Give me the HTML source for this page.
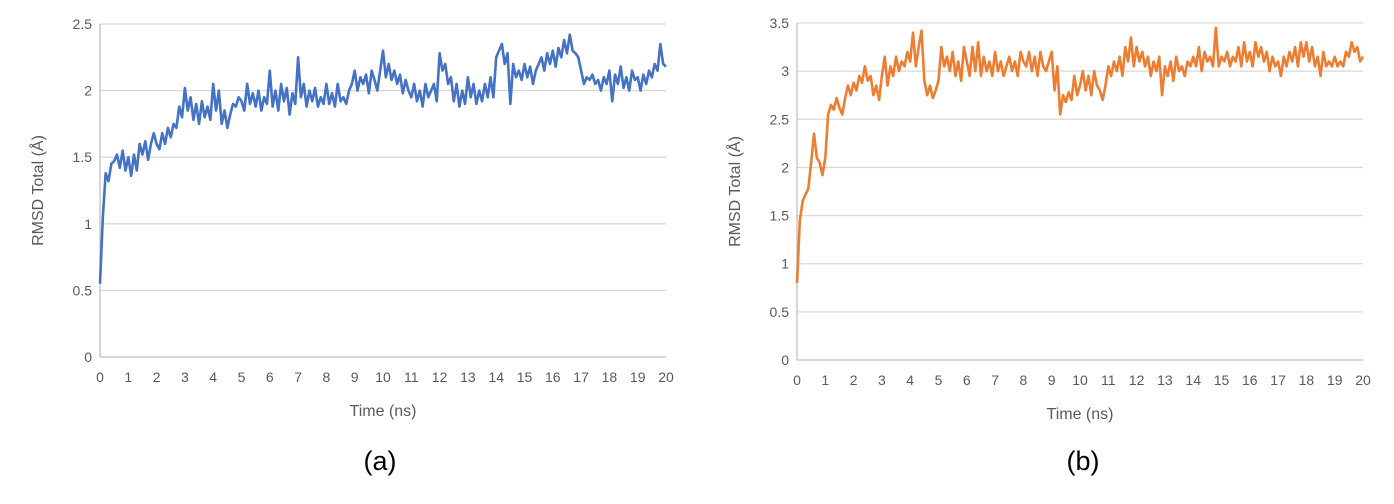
<!DOCTYPE html>
<html><head><meta charset="utf-8"><style>
html,body{margin:0;padding:0;background:#fff;}
svg{display:block;font-family:"Liberation Sans",Arial,sans-serif;}
</style></head><body>
<svg id="fig" width="1394" height="504" viewBox="0 0 1394 504">
<text x="380" y="470" font-size="27" text-anchor="middle" fill="#000">(a)</text>
<text x="1083" y="470" font-size="27" text-anchor="middle" fill="#000">(b)</text>
</svg>
<script>
const xTicks = [0,1,2,3,4,5,6,7,8,9,10,11,12,13,14,15,16,17,18,19,20];
const yTicksA = [0,0.5,1,1.5,2,2.5];
const yTicksB = [0,0.5,1,1.5,2,2.5,3,3.5];
const seriesA = [0.55,1.05,1.38,1.32,1.45,1.47,1.52,1.42,1.55,1.40,
1.50,1.36,1.52,1.40,1.60,1.52,1.62,1.48,1.60,1.68,
1.60,1.56,1.68,1.60,1.72,1.65,1.75,1.72,1.88,1.80,
2.02,1.85,1.95,1.78,1.90,1.75,1.92,1.80,1.88,1.78,
2.05,1.85,2.00,1.75,1.85,1.72,1.82,1.90,1.88,1.95,
1.92,1.85,2.05,1.90,1.98,1.88,2.00,1.85,1.95,1.90,
2.15,1.88,2.00,1.85,2.05,1.92,2.02,1.82,1.98,1.90,
2.25,1.95,2.05,1.88,2.00,1.92,2.02,1.88,1.95,1.90,
2.05,1.90,1.98,1.88,2.05,1.92,1.95,1.90,2.00,2.05,
2.15,2.00,2.10,2.05,2.12,1.98,2.15,2.08,2.00,2.15,
2.30,2.10,2.20,2.08,2.15,2.05,2.12,1.98,2.08,2.00,
1.95,2.05,1.92,2.00,1.88,2.05,1.95,2.00,2.05,1.92,
2.28,2.15,2.20,2.05,2.10,1.92,2.05,1.88,2.00,1.90,
2.10,1.95,2.05,1.90,2.00,1.92,2.05,1.95,2.10,1.95,
2.25,2.30,2.35,2.20,2.28,1.90,2.20,2.10,2.15,2.08,
2.20,2.10,2.18,2.05,2.15,2.20,2.25,2.15,2.28,2.20,
2.30,2.18,2.32,2.25,2.38,2.28,2.42,2.30,2.28,2.25,
2.15,2.05,2.10,2.08,2.12,2.05,2.08,2.00,2.10,2.05,
2.15,1.92,2.12,2.05,2.18,2.02,2.10,2.00,2.15,2.08,
2.10,2.00,2.12,2.05,2.15,2.10,2.20,2.15,2.35,2.20,
2.18];
const seriesB = [0.80,1.45,1.65,1.72,1.78,2.05,2.35,2.10,2.05,1.92,
2.10,2.55,2.65,2.60,2.72,2.62,2.55,2.72,2.85,2.75,
2.88,2.80,2.95,2.88,3.05,2.90,2.95,2.75,2.85,2.70,
2.95,3.15,2.85,3.05,2.95,3.15,3.00,3.10,3.05,3.20,
3.10,3.40,3.05,3.25,3.42,2.90,2.75,2.85,2.72,2.80,
2.90,3.25,3.05,3.15,3.00,3.20,2.95,3.10,2.90,3.25,
3.10,2.95,3.25,3.00,3.30,2.95,3.15,3.00,3.10,2.95,
3.20,3.00,3.10,2.95,3.05,3.15,3.00,3.10,2.95,3.20,
3.10,3.05,3.20,3.00,3.15,2.95,3.20,3.05,3.00,3.10,
3.20,2.80,3.05,2.55,2.75,2.68,2.78,2.70,2.95,2.75,
2.85,3.00,2.80,2.95,2.75,3.00,2.85,2.80,2.70,2.85,
3.05,2.95,3.10,3.00,3.15,2.95,3.25,3.10,3.35,3.05,
3.25,3.10,3.20,3.05,3.15,2.95,3.10,3.00,3.15,2.75,
3.05,2.95,3.10,2.90,3.15,3.00,3.05,2.95,3.10,3.05,
3.15,3.05,3.25,3.00,3.20,3.10,3.15,3.05,3.45,3.05,
3.15,3.10,3.20,3.05,3.15,3.10,3.25,3.05,3.30,3.10,
3.20,3.05,3.30,3.15,3.25,3.10,3.20,3.00,3.15,3.05,
3.10,2.95,3.15,3.05,3.20,3.10,3.25,3.05,3.30,3.15,
3.30,3.10,3.25,3.05,3.15,2.95,3.20,3.05,3.10,3.05,
3.15,3.05,3.10,3.05,3.20,3.15,3.30,3.20,3.25,3.10,
3.15];
const NS='http://www.w3.org/2000/svg';
const svg=document.getElementById('fig');
function mk(tag,attrs,parent){const e=document.createElementNS(NS,tag);for(const k in attrs)e.setAttribute(k,attrs[k]);(parent||svg).appendChild(e);return e;}
function chart(id,x0,x1,y0,y1,yTicks,yMax,data,color){
  const g=mk('g',{});
  
  
  const xs=v=>x0+(v/20)*(x1-x0);
  const ys=v=>y0-(v/yMax)*(y0-y1);
  yTicks.forEach(t=>{
    if(t>0){const l=mk('line',{x1:x0,x2:x1,y1:ys(t),y2:ys(t),stroke:'#d9d9d9','stroke-width':1.3},g);
    
    }
    const tx=mk('text',{x:x0-8,y:ys(t)+5,'font-size':14,'text-anchor':'end',fill:'#595959'},g);
    tx.textContent=String(t);
    
    
  });
  const ax=mk('line',{x1:x0,x2:x0,y1:y1,y2:y0,stroke:'#bfbfbf','stroke-width':1.3},g);
  
  
  const bx=mk('line',{x1:x0,x2:x1,y1:y0,y2:y0,stroke:'#bfbfbf','stroke-width':1.3},g);
  
  
  xTicks.forEach(t=>{
    const tx=mk('text',{x:xs(t),y:y0+25,'font-size':14,'text-anchor':'middle',fill:'#595959'},g);
    tx.textContent=String(t);
    
    
  });
  const xt=mk('text',{x:(x0+x1)/2,y:y0+59,'font-size':16,'text-anchor':'middle',fill:'#595959'},g);
  xt.textContent='Time (ns)';
  
  
  const cy=(y0+y1)/2;
  const yt=mk('text',{x:0,y:0,'font-size':16,'text-anchor':'middle',fill:'#595959',transform:`translate(${x0-57},${cy}) rotate(-90)`},g);
  yt.textContent='RMSD Total (Å)';
  
  
  const n=data.length-1;
  const d=data.map((v,i)=>(i?'L':'M')+xs(i*20/n).toFixed(2)+','+ys(v).toFixed(2)).join('');
  const p=mk('path',{d:d,fill:'none',stroke:color,'stroke-width':2.6,'stroke-linejoin':'round'},g);
  
  
}
chart('a',100,666,357,24,yTicksA,2.5,seriesA,'#4472c4');
chart('b',797,1363,360,23,yTicksB,3.5,seriesB,'#ed7d31');
</script>
</body></html>
